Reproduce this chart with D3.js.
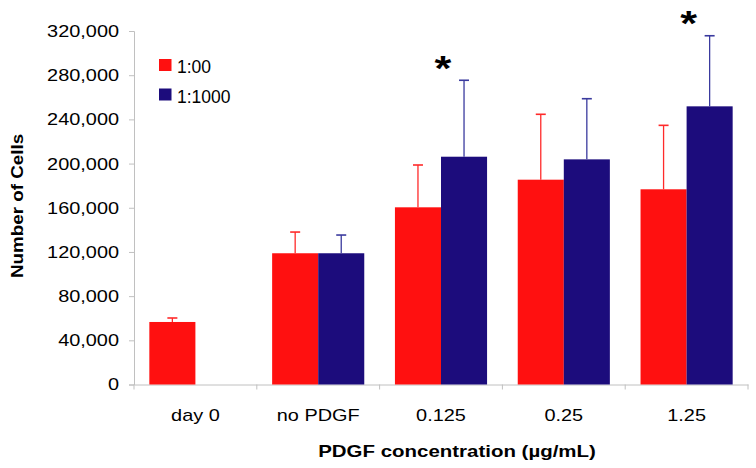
<!DOCTYPE html>
<html>
<head>
<meta charset="utf-8">
<script src="https://cdn.jsdelivr.net/npm/d3@7"></script>
<style>
  html, body { margin: 0; padding: 0; background: #fff; }
  svg { display: block; font-family: "Liberation Sans", Arial, sans-serif; }
</style>
</head>
<body>
<svg id="chart" width="756" height="468"></svg>
<script>
// ---- data ----
const categories = ["day 0", "no PDGF", "0.125", "0.25", "1.25"];
const seriesNames = ["1:00", "1:1000"];
const values100 = [56600, 118800, 160400, 185400, 176700];
const errors100 = [3600, 19200, 38300, 59200, 57900];
const values1000 = [null, 118800, 206200, 203800, 251800];
const errors1000 = [null, 16500, 69200, 54900, 63900];
const significant = [false, false, true, false, true];
const yTicks = [0, 40000, 80000, 120000, 160000, 200000, 240000, 280000, 320000];
const colors = ["#ff1010", "#1c0c7c"];
const errColors = ["#ff2a2a", "#3a3a9e"];

(function () {
const svg = d3.select("#chart");
const mLeft = 134, mRight = 748, mTop = 31, mBottom = 384.5;
const sx = 1.17; // horizontal stretch of the reference text

const x = d3.scaleBand().domain(categories).range([mLeft, mRight]).paddingInner(0).paddingOuter(0);
const x1 = d3.scaleBand().domain(seriesNames).range([0, x.bandwidth()]).paddingOuter(0.333).paddingInner(0);
const y = d3.scaleLinear().domain([0, 320000]).range([mBottom, mTop]);

const axisColor = "#c0c0c0";

// y axis
const yAxis = svg.append("g").attr("transform", `translate(${mLeft},0)`)
  .call(d3.axisLeft(y).tickValues(yTicks).tickSize(5).tickPadding(10).tickFormat(d3.format(",")));
yAxis.select(".domain").attr("stroke", axisColor);
yAxis.selectAll(".tick line").attr("stroke", axisColor);
yAxis.selectAll(".tick text")
  .attr("font-size", 17).attr("fill", "#000").attr("font-family", "Liberation Sans, Arial, sans-serif")
  .attr("x", 0)
  .attr("transform", `translate(-15,0) scale(${sx},1)`);

// x axis
const xAxis = svg.append("g").attr("transform", `translate(0,${mBottom})`)
  .call(d3.axisBottom(x).tickSize(0).tickPadding(24));
xAxis.select(".domain").attr("stroke", axisColor);
xAxis.selectAll(".tick text").attr("font-size", 17).attr("fill", "#000")
  .attr("font-family", "Liberation Sans, Arial, sans-serif")
  .attr("transform", `scale(${sx},1)`);
// boundary ticks
const boundaries = categories.map(c => x(c)).concat([mRight]);
svg.append("g").selectAll("line").data(boundaries).join("line")
  .attr("x1", d => d).attr("x2", d => d)
  .attr("y1", mBottom).attr("y2", mBottom + 5)
  .attr("stroke", axisColor);

// bars
const seriesData = [
  { name: seriesNames[0], values: values100, errors: errors100, color: colors[0], err: errColors[0] },
  { name: seriesNames[1], values: values1000, errors: errors1000, color: colors[1], err: errColors[1] }
];
const capW = 10;
seriesData.forEach(s => {
  const g = svg.append("g");
  const rows = categories.map((c, i) => ({ c, v: s.values[i], e: s.errors[i] })).filter(r => r.v != null);
  g.selectAll("rect").data(rows).join("rect")
    .attr("x", r => x(r.c) + x1(s.name))
    .attr("width", x1.bandwidth())
    .attr("y", r => y(r.v))
    .attr("height", r => y(0) - y(r.v))
    .attr("fill", s.color);
  const cx = r => x(r.c) + x1(s.name) + x1.bandwidth() / 2;
  g.selectAll("line.v").data(rows).join("line").attr("class", "v")
    .attr("x1", cx).attr("x2", cx)
    .attr("y1", r => y(r.v)).attr("y2", r => y(r.v + r.e))
    .attr("stroke", s.err).attr("stroke-width", 1.3);
  g.selectAll("line.c").data(rows).join("line").attr("class", "c")
    .attr("x1", r => cx(r) - capW / 2).attr("x2", r => cx(r) + capW / 2)
    .attr("y1", r => y(r.v + r.e)).attr("y2", r => y(r.v + r.e))
    .attr("stroke", s.err).attr("stroke-width", 1.6);
});

// significance asterisks
const sig = categories.map((c, i) => ({ c, i })).filter(d => significant[d.i]);
svg.append("g").selectAll("text").data(sig).join("text")
  .attr("transform", d => `translate(${x(d.c) + x.bandwidth() / 2 + 2},${y(values1000[d.i] + errors1000[d.i]) - 0.5}) scale(1.2,1)`)
  .attr("text-anchor", "middle")
  .attr("font-size", 36).attr("font-weight", "bold")
  .text("*");

// axis titles
svg.append("text")
  .attr("transform", `translate(457,457) scale(1.24,1)`)
  .attr("text-anchor", "middle").attr("font-size", 16.5).attr("font-weight", "bold")
  .text("PDGF concentration (µg/mL)");
svg.append("text")
  .attr("transform", `translate(23,206) rotate(-90) scale(1.14,1)`)
  .attr("text-anchor", "middle").attr("font-size", 16.5).attr("font-weight", "bold")
  .text("Number of Cells");

// legend
const legend = svg.append("g").attr("transform", "translate(159,59)");
seriesNames.forEach((n, i) => {
  const g = legend.append("g").attr("transform", `translate(0,${i * 29.5})`);
  g.append("rect").attr("width", 12.5).attr("height", 12).attr("fill", colors[i]);
  g.append("text").attr("x", 18).attr("y", 14).attr("font-size", 17.5).text(n);
});
})();
</script>
</body>
</html>
